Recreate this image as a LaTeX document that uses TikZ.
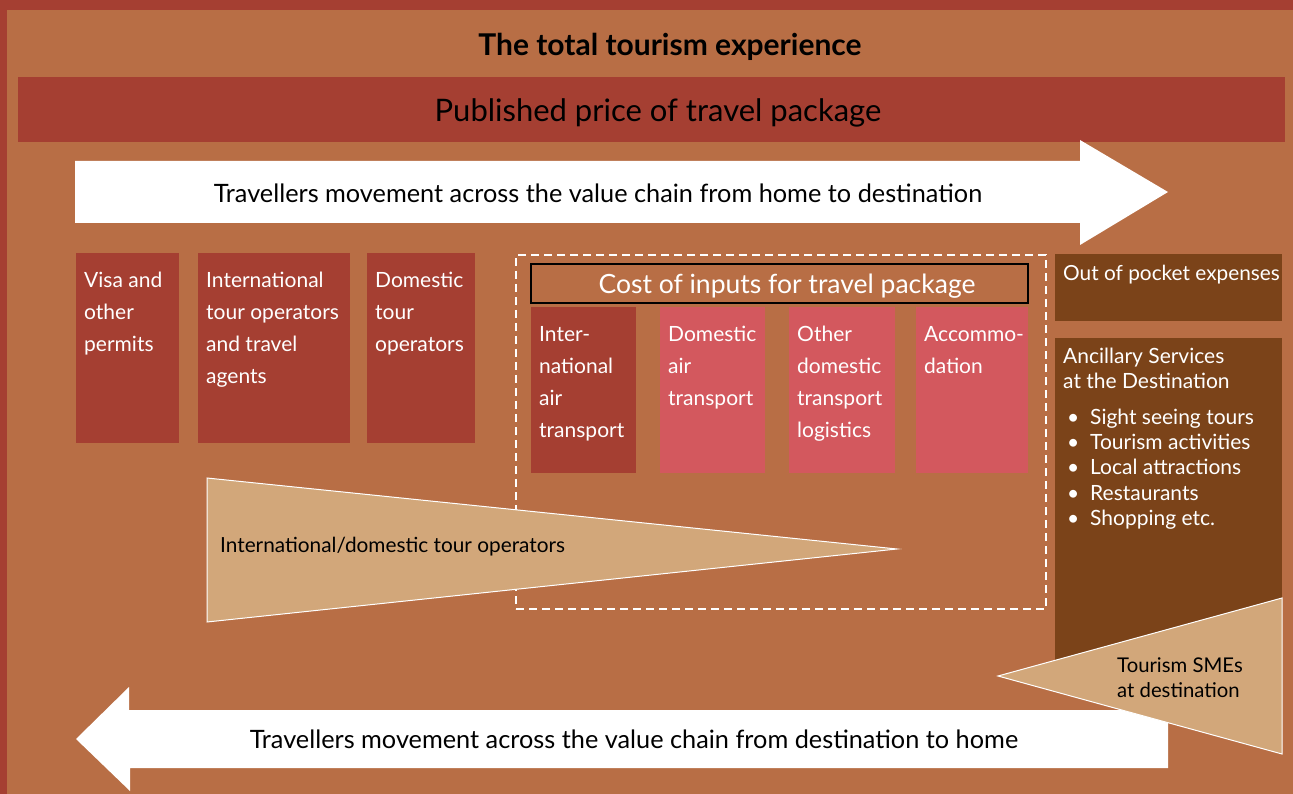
\documentclass[tikz,border=0pt]{standalone}
\usepackage{fontspec}
\setmainfont{Lato}
\usetikzlibrary{calc}
\definecolor{bgorange}{RGB}{184,110,69}
\definecolor{rustred}{RGB}{165,63,50}
\definecolor{rosepink}{RGB}{211,88,94}
\definecolor{darkbrown}{RGB}{123,67,25}
\definecolor{sand}{RGB}{210,167,122}
\begin{document}
\begin{tikzpicture}[x=1pt,y=-1pt,panel/.style={anchor=north west,inner sep=0pt,outer sep=0pt},dark/.style={panel,fill=rustred},light/.style={panel,fill=rosepink},brownbox/.style={panel,fill=darkbrown},lbl/.style={anchor=north west,inner sep=0pt,align=left,text=white,font=\fontsize{21}{32}\selectfont},wedge/.style={fill=sand,draw=white,line width=1pt},banner/.style={font=\fontsize{25.3}{30}\selectfont}]
  \useasboundingbox (0,0) rectangle (1293,794);
  \fill[bgorange] (0,0) rectangle (1293,794);
  \fill[rustred] (0,0) rectangle (1293,10);
  \fill[rustred] (0,0) rectangle (7,794);
  \node[font=\bfseries\fontsize{30}{34}\selectfont] (title) at (670,47) {The total tourism experience};
  \node[dark,minimum width=1267pt,minimum height=65pt] (price) at (18,77) {};
  \node[font=\fontsize{31}{36}\selectfont] at (658,113) {Published price of travel package};
  % home to destination
  \fill[white] (75,161) -- (1080,161) -- (1080,140) -- (1168,192) -- (1080,245) -- (1080,223) -- (75,223) -- cycle;
  \node[banner] (outward) at (598,193) {Travellers movement across the value chain from home to destination};
  % boxes on the left
  \node[dark,minimum width=103pt,minimum height=190pt] (visa) at (76,253) {};
  \node[lbl] at ($(visa.north west)+(8,19)$) {Visa and\\other\\permits};
  \node[dark,minimum width=152pt,minimum height=190pt] (intlops) at (198,253) {};
  \node[lbl] at ($(intlops.north west)+(8,19)$) {International\\tour operators\\and travel\\agents};
  \node[dark,minimum width=108pt,minimum height=190pt] (domops) at (367,253) {};
  \node[lbl] at ($(domops.north west)+(8,19)$) {Domestic\\tour\\operators};
  % inputs
  \node[panel,draw=white,line width=2.5pt,dash pattern=on 8pt off 5pt,minimum width=530pt,minimum height=354pt] (inputs) at (516,255) {};
  \node[panel,draw=black,line width=1.2pt,minimum width=497pt,minimum height=39pt] (cost) at (531,264) {};
  \node[text=white,font=\fontsize{26.5}{30}\selectfont] at (787,286) {Cost of inputs for travel package};
  \node[dark,minimum width=105pt,minimum height=166pt] (intlair) at (531,307) {};
  \node[lbl] at ($(intlair.north west)+(8,19)$) {Inter-\\national\\air\\transport};
  \node[light,minimum width=105pt,minimum height=166pt] (domair) at (660,307) {};
  \node[lbl] at ($(domair.north west)+(8,19)$) {Domestic\\air\\transport};
  \node[light,minimum width=106pt,minimum height=166pt] (logistics) at (789,307) {};
  \node[lbl] at ($(logistics.north west)+(8,19)$) {Other\\domestic\\transport\\logistics};
  \node[light,minimum width=112pt,minimum height=166pt] (accom) at (916,307) {};
  \node[lbl] at ($(accom.north west)+(8,19)$) {Accommo-\\dation};
  % destination side
  \node[brownbox,minimum width=227pt,minimum height=67pt] (pocket) at (1055,254) {};
  \node[lbl,font=\fontsize{20.8}{25}\selectfont] at ($(pocket.north west)+(8,11)$) {Out of pocket expenses};
  \node[brownbox,minimum width=227pt,minimum height=342pt] (ancillary) at (1055,338) {};
  \node[lbl,font=\fontsize{21}{25.3}\selectfont] (anctext) at ($(ancillary.north west)+(8,10)$) {Ancillary Services\\at the Destination\\[10pt]
    \makebox[27pt][l]{\hspace{4pt}\textbullet}Sight seeing tours\\
    \makebox[27pt][l]{\hspace{4pt}\textbullet}Tourism activities\\
    \makebox[27pt][l]{\hspace{4pt}\textbullet}Local attractions\\
    \makebox[27pt][l]{\hspace{4pt}\textbullet}Restaurants\\
    \makebox[27pt][l]{\hspace{4pt}\textbullet}Shopping etc.};
  % tour operator wedge
  \draw[wedge] (207,478) -- (897,549) -- (207,622) -- cycle;
  \node[anchor=west,inner sep=0pt,font=\fontsize{20.8}{25}\selectfont] (operators) at (220,547) {International/domestic tour operators};
  % destination to home
  \fill[white] (76,739) -- (129,687) -- (129,710) -- (1168,710) -- (1168,768) -- (130,768) -- (130,791) -- cycle;
  \node[banner] (inward) at (634,739) {Travellers movement across the value chain from destination to home};
  \draw[wedge] (998,676) -- (1282,598) -- (1282,754) -- cycle;
  \node[anchor=west,inner sep=0pt,align=left,font=\fontsize{20.3}{25}\selectfont] (smes) at (1117,678) {Tourism SMEs\\at destination};
\end{tikzpicture}
\end{document}
